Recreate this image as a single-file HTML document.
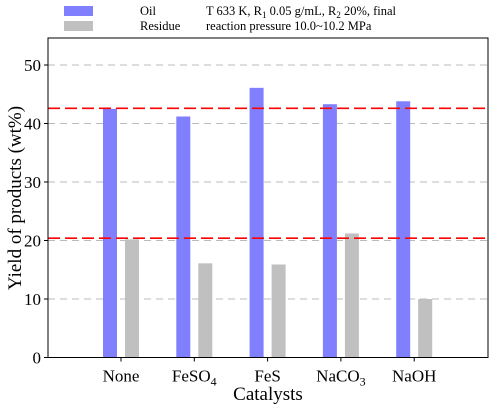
<!DOCTYPE html>
<html><head><meta charset="utf-8"><style>
body{margin:0;background:#fff}
svg text{font-family:"Liberation Serif",serif;fill:#000}
</style></head><body>
<svg id="c" width="493" height="405" xmlns="http://www.w3.org/2000/svg"></svg>
<script>
const categories=["None","FeSO4","FeS","NaCO3","NaOH"];
const catLabels=[["None",""],["FeSO","4"],["FeS",""],["NaCO","3"],["NaOH",""]];
const oilValues=[42.5,41.2,46.1,43.3,43.8];
const residueValues=[20.2,16.1,15.9,21.2,10.0];
const refLines=[42.6,20.4];
const yTicks=[0,10,20,30,40,50];
const L=48,R=488,T=38,B=357.5;
const y=v=>B-v*5.85;
const x=i=>121+i*73.3;
const NS="http://www.w3.org/2000/svg";
const svg=document.getElementById('c');
function el(t,a,p){const e=document.createElementNS(NS,t);for(const k in a)e.setAttribute(k,a[k]);(p||svg).appendChild(e);return e;}
// grid
yTicks.forEach(v=>{if(v===0)return;const g=el('line',{x1:L,x2:R,y1:y(v),y2:y(v),stroke:'#bbb','stroke-width':1,'stroke-dasharray':'7,5'});

});
// bars
categories.forEach((c,i)=>{
const b=el('rect',{x:x(i)-18,y:y(oilValues[i]),width:14,height:B-y(oilValues[i]),fill:'#8080ff'});


const r=el('rect',{x:x(i)+4,y:y(residueValues[i]),width:14,height:B-y(residueValues[i]),fill:'#c0c0c0'});


});
// ref lines
refLines.forEach((v,k)=>{const l=el('line',{x1:L,x2:R,y1:y(v),y2:y(v),stroke:'#ff0000','stroke-width':1.6,'stroke-dasharray':'12,5'});

});
// frame
const f=el('rect',{x:L,y:T,width:R-L,height:B-T,fill:'none',stroke:'#000','stroke-width':1});


// y ticks
yTicks.forEach(v=>{el('line',{x1:L-4,x2:L,y1:y(v),y2:y(v),stroke:'#000'});
const t=el('text',{x:L-7,y:y(v)+6,'text-anchor':'end','font-size':17});t.textContent=v;

});
// x ticks
catLabels.forEach((c,i)=>{el('line',{x1:x(i),x2:x(i),y1:B,y2:B+4,stroke:'#000'});
const t=el('text',{x:x(i),y:B+24,'text-anchor':'middle','font-size':17});
t.textContent=c[0];
if(c[1]){const s=el('tspan',{'font-size':12,dy:4},t);s.textContent=c[1];}

});
</script>
<svg style="position:absolute;left:0;top:0" width="493" height="405" xmlns="http://www.w3.org/2000/svg">
<text x="268" y="400" text-anchor="middle" font-size="19">Catalysts</text>
<text transform="translate(21,198) rotate(-90)" text-anchor="middle" font-size="19">Yield of products (wt%)</text>
<g>
<rect x="64" y="6" width="29" height="10" fill="#8080ff"/>
<text x="140" y="15" font-size="12.5">Oil</text>
<rect x="64" y="21" width="29" height="10" fill="#c0c0c0"/>
<text x="140" y="30" font-size="12.5">Residue</text>
<text x="206" y="15" font-size="12.5">T 633 K, R<tspan font-size="9" dy="3">1</tspan><tspan dy="-3"> 0.05 g/mL, R</tspan><tspan font-size="9" dy="3">2</tspan><tspan dy="-3"> 20%, final</tspan></text>
<text x="206" y="30" font-size="12.5">reaction pressure 10.0~10.2 MPa</text>
</g>
</svg>
</body></html>
